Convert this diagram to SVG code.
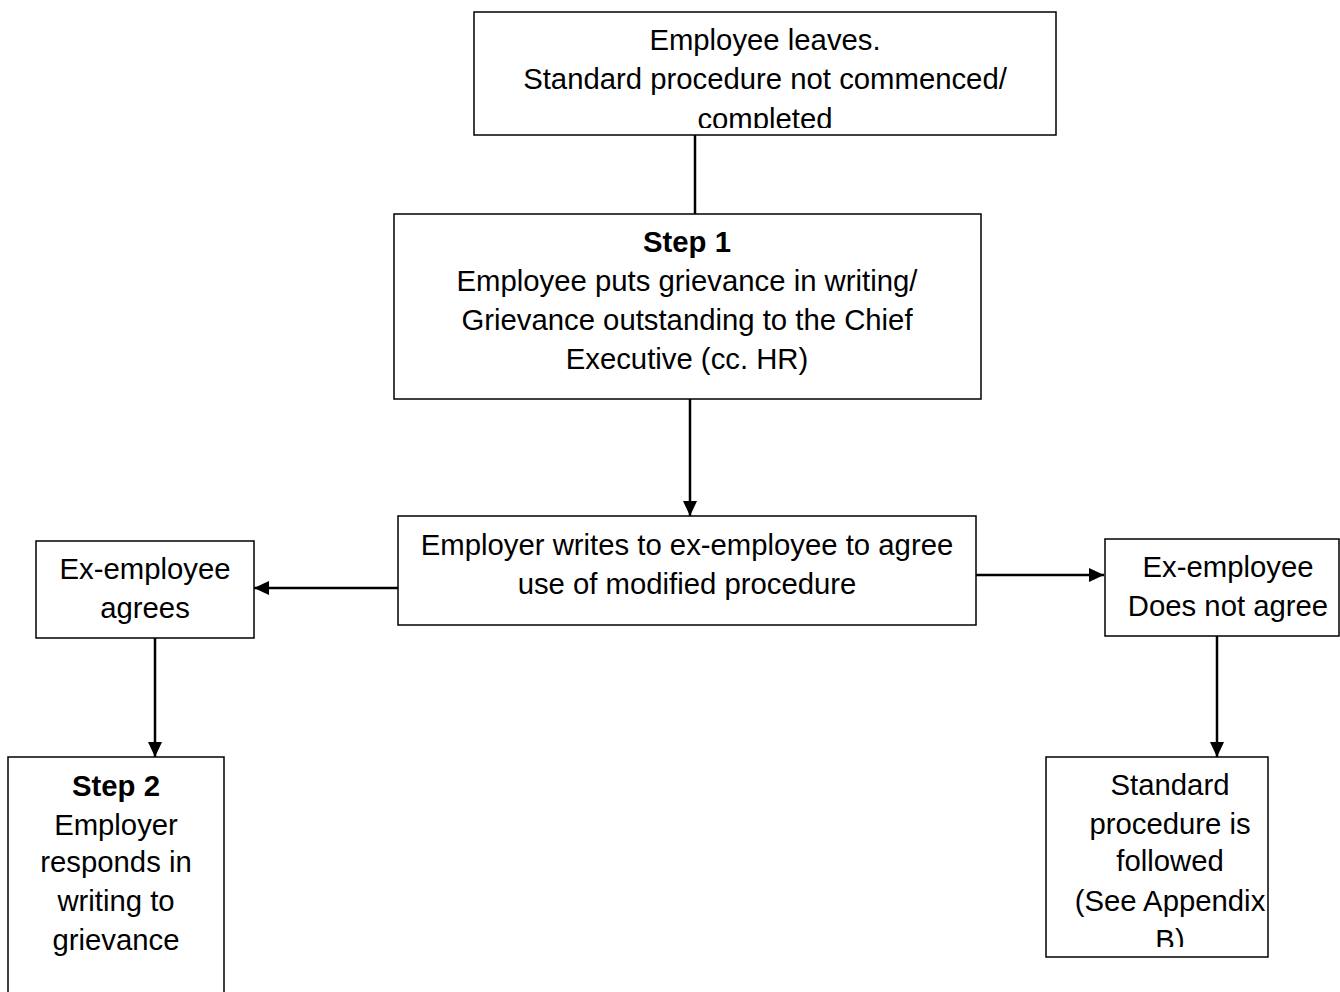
<svg xmlns="http://www.w3.org/2000/svg" width="1340" height="992" viewBox="0 0 1340 992">
<style>
.box{fill:#fff;stroke:#000;stroke-width:1.5}
.t{font-family:"Liberation Sans",Arial,sans-serif;font-size:29.3px;fill:#000;text-anchor:middle}
.b{font-weight:bold}
.c{stroke:#000;stroke-width:2.5;fill:none}
</style>
<defs>
<marker id="ah" markerWidth="15" markerHeight="14" refX="15" refY="7" orient="auto" markerUnits="userSpaceOnUse" viewBox="0 0 15 14">
<path d="M0,0 L15,7 L0,14 z" fill="#000"/>
</marker>
<clipPath id="cTop"><rect x="474" y="12" width="582" height="116"/></clipPath>
<clipPath id="cStd"><rect x="1046" y="757" width="222" height="190"/></clipPath>
</defs>
<g id="connectors">
<line class="c" x1="695" y1="135" x2="695" y2="214" stroke-width="1.5"/>
<line class="c" x1="690" y1="399" x2="690" y2="516" marker-end="url(#ah)"/>
<line class="c" x1="398" y1="588" x2="254" y2="588" marker-end="url(#ah)"/>
<line class="c" x1="976" y1="575" x2="1104" y2="575" marker-end="url(#ah)"/>
<line class="c" x1="155" y1="638" x2="155" y2="757" marker-end="url(#ah)"/>
<line class="c" x1="1217" y1="636" x2="1217" y2="757" marker-end="url(#ah)"/>
</g>
<g id="n-top">
<rect class="box" x="474" y="12" width="582" height="123"/>
<g clip-path="url(#cTop)">
<text class="t" x="765" y="50">Employee leaves.</text>
<text class="t" x="765" y="89">Standard procedure not commenced/</text>
<text class="t" x="765" y="129">completed</text>
</g>
</g>
<g id="n-step1">
<rect class="box" x="394" y="214" width="587" height="185"/>
<text class="t b" x="687" y="252">Step 1</text>
<text class="t" x="687" y="291">Employee puts grievance in writing/</text>
<text class="t" x="687" y="330">Grievance outstanding to the Chief</text>
<text class="t" x="687" y="369">Executive (cc. HR)</text>
</g>
<g id="n-writes">
<rect class="box" x="398" y="516" width="578" height="109"/>
<text class="t" x="687" y="555">Employer writes to ex-employee to agree</text>
<text class="t" x="687" y="594">use of modified procedure</text>
</g>
<g id="n-agrees">
<rect class="box" x="36" y="541" width="218" height="97"/>
<text class="t" x="145" y="579">Ex-employee</text>
<text class="t" x="145" y="618">agrees</text>
</g>
<g id="n-notagree">
<rect class="box" x="1105" y="539" width="234" height="97"/>
<text class="t" x="1228" y="577">Ex-employee</text>
<text class="t" x="1228" y="616">Does not agree</text>
</g>
<g id="n-step2">
<rect class="box" x="8" y="757" width="216" height="245"/>
<text class="t b" x="116" y="796">Step 2</text>
<text class="t" x="116" y="835">Employer</text>
<text class="t" x="116" y="872">responds in</text>
<text class="t" x="116" y="911">writing to</text>
<text class="t" x="116" y="950">grievance</text>
</g>
<g id="n-standard">
<rect class="box" x="1046" y="757" width="222" height="200"/>
<g clip-path="url(#cStd)">
<text class="t" x="1170" y="795">Standard</text>
<text class="t" x="1170" y="834">procedure is</text>
<text class="t" x="1170" y="871">followed</text>
<text class="t" x="1170" y="911">(See Appendix</text>
<text class="t" x="1170" y="950">B)</text>
</g>
</g>
</svg>
